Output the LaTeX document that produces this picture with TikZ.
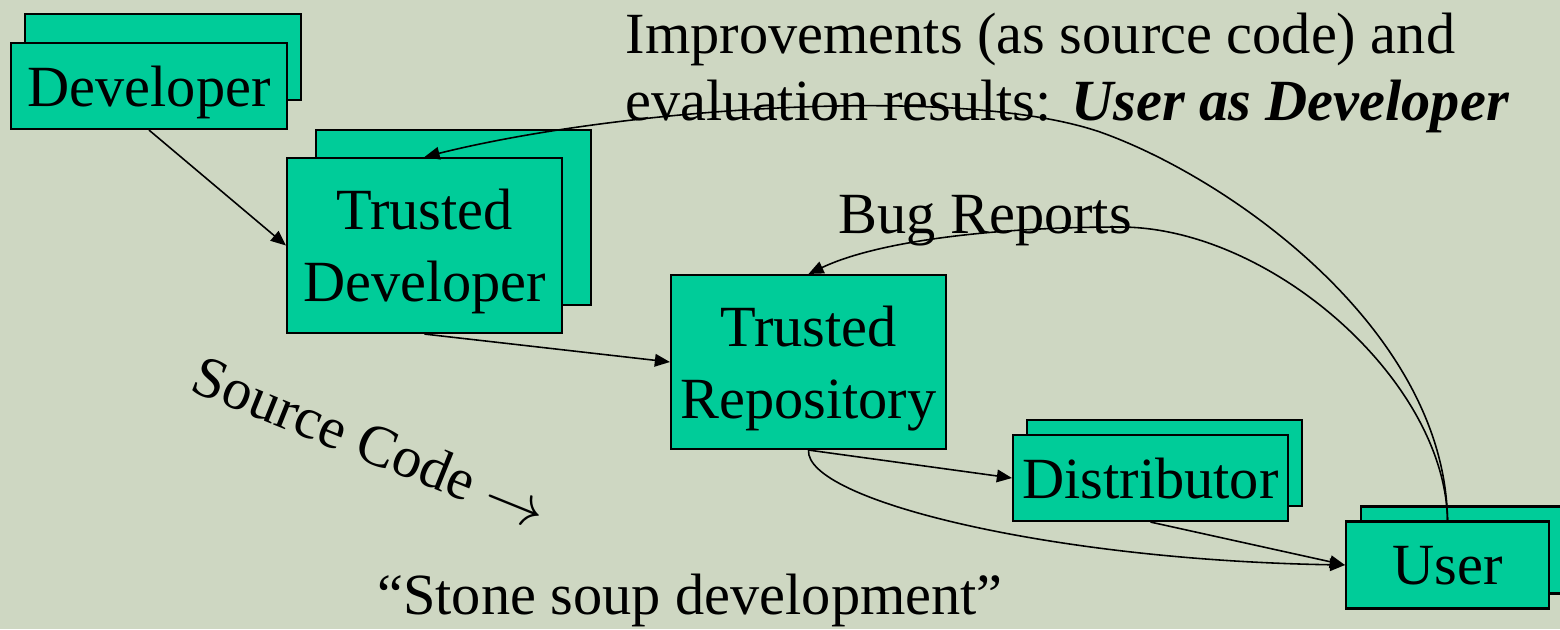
\documentclass[tikz,border=0pt]{standalone}
\usepackage{fontspec}
\setmainfont{Liberation Serif}
\usetikzlibrary{arrows.meta,shadows}

\definecolor{slidebg}{RGB}{206,215,194}
\definecolor{boxgreen}{RGB}{0,204,153}

\begin{document}
\begin{tikzpicture}[
  font=\fontsize{16.6}{20.4}\selectfont,
  >={Triangle[length=4.3pt,width=3.6pt]},
  box/.style={draw,line width=0.6pt,fill=boxgreen,inner sep=0pt,align=center,text depth=0pt},
  stack/.style 2 args={box,copy shadow={shadow xshift=#1,shadow yshift=#2,
                       fill=boxgreen,draw=black,line width=0.6pt}},
  flow/.style={->,line width=0.45pt},
  note/.style={inner sep=0pt},
]

% ---------------- slide background ----------------
\fill[slidebg] (0,0) rectangle (15.6,-6.29);
\useasboundingbox (0,0) rectangle (15.6,-6.29);

% ---------------- the boxes, stacked ones carry a copy behind ----------------
\node[stack={0.14cm}{0.29cm},minimum width=2.76cm,minimum height=0.86cm] (dev)  at (1.49,-0.86)   {Developer};
\node[stack={0.29cm}{0.28cm},minimum width=2.75cm,minimum height=1.75cm] (tdev) at (4.245,-2.455) {Trusted\\Developer};
\node[box,minimum width=2.75cm,minimum height=1.74cm]                    (trep) at (8.085,-3.62)  {Trusted\\Repository};
\node[stack={0.14cm}{0.15cm},minimum width=2.75cm,minimum height=0.86cm] (dist) at (11.505,-4.78) {Distributor};
\node[stack={0.15cm}{0.15cm},minimum width=2.03cm,minimum height=0.87cm] (user) at (14.475,-5.65) {User};

% ---------------- free text ----------------
\node[note,anchor=west,align=left,font=\fontsize{16.6}{19.3}\selectfont] (impr) at (6.25,-0.73)
  {Improvements (as source code) and\\evaluation results: \textbf{\textit{User as Developer}}};
\node[note,anchor=base] (bugs) at (9.85,-2.33) {Bug Reports};
\node[note,rotate=-22] (src) at (3.70,-4.42) {Source Code $\rightarrow$};
\node[note,anchor=base] (soup) at (6.90,-6.14) {“Stone soup development”};

% ---------------- source code flow ----------------
\foreach \a/\b in {dev.south/tdev.west,tdev.south/trep.west,trep.south/dist.west,dist.south/user.west}{\draw[flow] (\a) -- (\b);}
\draw[flow] (trep.south) .. controls (8.05,-5.00) and (10.50,-5.60) .. (user.west);

% ---------------- feedback from the user ----------------
% the two arcs bend through a point near their top
\coordinate (bugtop) at (11.20,-2.27);
\coordinate (imptop) at (11.00,-1.32);
\draw[flow] (user.north) .. controls (14.45,-3.80) and (12.70,-2.27) .. (bugtop)
                         .. controls (10.00,-2.27) and (8.80,-2.40) .. (trep.north);
\draw[flow] (user.north) .. controls (14.45,-3.30) and (12.30,-1.78) .. (imptop)
                         .. controls (9.60,-0.84) and (6.20,-1.08) .. (tdev.north);

\end{tikzpicture}
\end{document}
